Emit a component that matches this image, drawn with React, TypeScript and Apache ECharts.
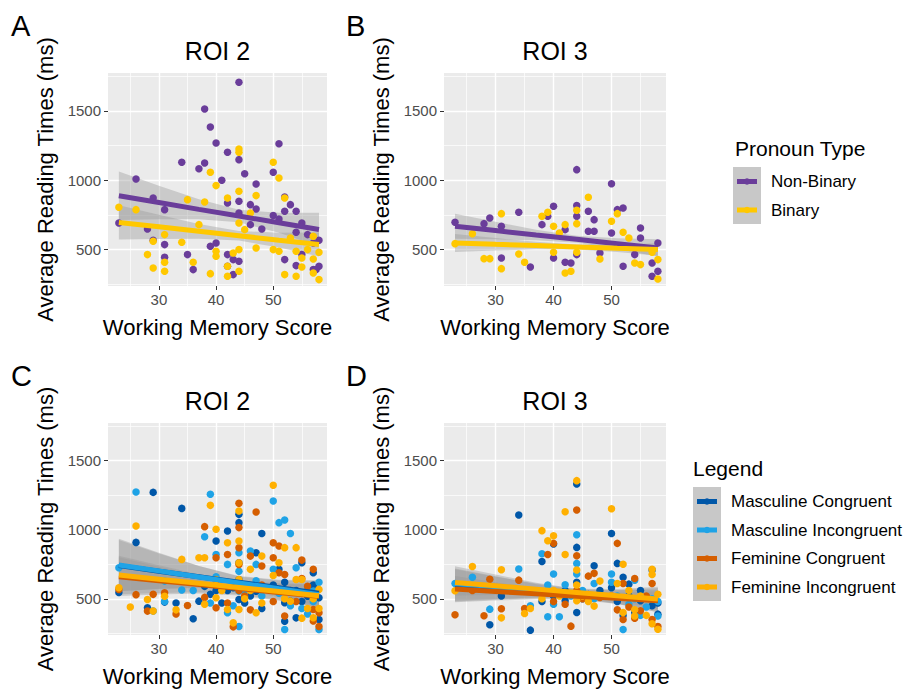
import React, { useEffect, useRef } from "react";
import * as echarts from "echarts";

const FONT = "'Liberation Sans', Arial, sans-serif";

// ---------- axes ----------
const X_MIN = 21.1;
const X_MAX = 59.4;
const Y_MIN = 238;
const Y_MAX = 1772;
const X_MAJOR = [30, 40, 50];
const X_MINOR = [25, 35, 45, 55];
const Y_MAJOR = [500, 1000, 1500];
const Y_MINOR = [250, 750, 1250, 1750];

const PANEL_TITLES = ["ROI 2", "ROI 3", "ROI 2", "ROI 3"];
const PANEL_LETTERS = ["A", "B", "C", "D"];
const X_TITLE = "Working Memory Score";
const Y_TITLE = "Average Reading Times (ms)";

const LEGEND1_TITLE = "Pronoun Type";
const LEGEND1_ITEMS = ["Non-Binary", "Binary"];
const LEGEND2_TITLE = "Legend";
const LEGEND2_ITEMS = ["Masculine Congruent", "Masculine Incongruent", "Feminine Congruent", "Feminine Incongruent"];

const C_NB = "#6A3D9A";
const C_B = "#FFC800";
const C_MC = "#0057A8";
const C_MI = "#1FA3E6";
const C_FC = "#D55E00";
const C_FI = "#FFB000";

// ---------- points: [working memory score, reading time] ----------
const aNonBinary = [[23,692],[26,1009],[28,649],[29,872],[29,567],[31,788],[31,536],[31,445],[34,1129],[35,464],[36,356],[37,1083],[38,1124],[38,1513],[39,1383],[39,524],[40,1268],[40,548],[41,999],[42,1201],[42,836],[42,464],[42,380],[43,428],[44,1705],[44,1148],[44,848],[44,764],[44,416],[43,320],[45,1047],[46,824],[46,680],[47,973],[47,793],[48,649],[50,1057],[50,745],[51,1263],[51,721],[52,879],[52,776],[52,428],[53,824],[54,776],[54,625],[54,385],[55,692],[55,464],[56,608],[57,548],[57,356],[58,567],[58,380],[57.5,356]];
const aBinary = [[23,805],[26,788],[28,464],[29,368],[29,560],[31,608],[31,409],[31,344],[34,553],[35,860],[36,409],[37,680],[38,843],[39,1057],[39,327],[40,961],[40,488],[40,452],[42,872],[42,380],[42,308],[43,476],[44,1225],[44,1201],[44,920],[44,692],[44,500],[44,344],[45,644],[46,764],[47,889],[47,512],[50,1129],[50,500],[51,1016],[51,488],[52,872],[52,320],[53,584],[54,488],[54,308],[55,440],[55,375],[56,500],[57,596],[57,433],[57,332],[58,284],[58,481]];

const bNonBinary = [[23,697],[28,687],[29,728],[31,668],[31,440],[34,769],[36,375],[38,680],[39,740],[40,812],[40,440],[42,644],[42,409],[43,404],[44,1076],[44,817],[44,740],[44,464],[46,776],[46,632],[47,716],[47,632],[48,476],[50,975],[50,620],[51,788],[52,800],[52,380],[54,464],[55,656],[55,584],[57,404],[58,548],[58,344],[57,308]];
const bBinary = [[23,543],[26,615],[28,435],[29,435],[31,759],[31,363],[34,469],[35,409],[38,740],[39,769],[40,481],[40,668],[41,620],[42,680],[42,332],[43,344],[44,783],[44,687],[44,481],[46,877],[48,433],[50,704],[51,759],[52,625],[53,584],[54,404],[55,392],[57,481],[58,428],[58,289]];

const cMascCong = [[29,1270],[26,908],[23,546],[28,435],[31,476],[34,1154],[36,355],[37,483],[39,532],[40,918],[42,990],[44,1111],[44,1051],[44,495],[47,833],[48,973],[47,555],[51,713],[52,471],[53,483],[55,761],[57,689],[58,507],[56,519],[43,580],[52,338],[54,362],[40,560],[41,470],[42,560],[44,640],[45,470],[46,520],[48,430],[50,600],[52,620],[54,560],[55,480],[57,600],[58,350],[33,470],[38,590],[44,760]];
const cMascIncong = [[26,1273],[23,725],[29,411],[31,628],[34,563],[39,1256],[38,949],[40,821],[42,749],[44,833],[44,556],[46,845],[47,749],[50,1208],[51,1051],[52,1070],[53,973],[54,725],[56,568],[57,556],[58,278],[50,713],[52,278],[42,399],[39,470],[40,660],[43,450],[44,700],[45,560],[47,630],[48,520],[51,540],[53,450],[55,430],[56,390],[57,480],[58,620],[31,480],[36,560],[44,300]];
const cFemCong = [[23,568],[28,411],[29,532],[31,544],[35,452],[38,1022],[40,797],[40,435],[42,821],[44,1191],[44,1015],[44,870],[44,749],[43,297],[46,809],[47,1128],[48,737],[50,906],[50,797],[51,882],[51,689],[52,676],[52,375],[55,780],[55,647],[57,713],[57,423],[58,399],[38,510],[40,600],[42,470],[44,560],[45,520],[46,420],[48,600],[50,480],[53,560],[54,480],[56,590],[57,340],[58,300],[26,530],[33,390]];
const cFemIncong = [[23,580],[26,1027],[28,495],[29,411],[31,519],[34,785],[37,797],[38,797],[39,1176],[40,1003],[40,507],[42,906],[42,423],[44,1135],[44,918],[44,423],[43,326],[45,500],[46,713],[47,399],[48,809],[50,1321],[50,669],[51,761],[52,870],[53,483],[54,870],[55,640],[57,363],[58,568],[38,460],[40,640],[41,560],[44,760],[44,640],[46,560],[48,470],[50,560],[52,500],[54,640],[55,360],[56,430],[57,500],[58,430],[25,440],[33,420]];

const dMascCong = [[34,1106],[50,973],[44,1331],[44,872],[47,739],[51,756],[42,486],[44,401],[36,273],[29,312],[57,708],[53,606],[52,655],[40,896],[38,770],[55,486],[58,389],[40,520],[42,560],[44,620],[45,500],[46,530],[48,560],[50,580],[51,480],[52,380],[53,520],[54,400],[55,560],[57,450],[58,470],[31,520],[38,480]];
const dMascIncong = [[34,715],[44,964],[44,756],[38,826],[40,679],[42,601],[39,370],[50,679],[26,655],[23,611],[29,425],[47,611],[54,635],[58,375],[52,278],[41,370],[39,600],[40,460],[43,520],[44,680],[45,560],[47,500],[50,620],[51,520],[53,460],[54,500],[55,380],[56,440],[57,500],[58,480],[31,580],[36,450]];
const dFemCong = [[23,384],[28,377],[29,642],[31,428],[34,635],[39,821],[40,901],[44,1142],[44,812],[47,684],[46,664],[51,901],[52,611],[54,647],[57,611],[43,302],[52,350],[55,413],[38,540],[40,480],[42,460],[44,560],[45,500],[48,510],[50,520],[51,420],[53,440],[54,360],[56,520],[57,350],[58,300],[26,560],[35,430]];
const dFemIncong = [[23,558],[26,734],[31,710],[38,993],[39,920],[40,956],[42,1130],[42,821],[44,1355],[44,708],[44,486],[50,1152],[52,750],[51,611],[48,628],[57,713],[57,676],[54,375],[58,532],[35,394],[47,447],[31,362],[38,500],[40,560],[41,520],[44,600],[45,520],[46,480],[50,520],[52,400],[53,560],[54,420],[55,520],[56,380],[57,320],[58,280],[36,430]];

// ---------- fitted lines and 95% bands ----------
const FIT_X = [23, 30, 37, 44, 51, 58];

const aNBFit = [888, 839, 790, 742, 693, 645];
const aNBUp = [1063, 960, 862, 787, 765, 765];
const aNBLow = [713, 718, 718, 697, 621, 525];
const aBFit = [696, 664, 632, 600, 568, 537];
const aBUp = [820, 751, 685, 635, 621, 623];
const aBLow = [572, 577, 579, 565, 515, 451];

const bNBFit = [668, 637, 605, 574, 543, 512];
const bNBUp = [758, 700, 643, 599, 581, 574];
const bNBLow = [578, 574, 567, 549, 505, 450];
const bBFit = [548, 538, 529, 519, 509, 500];
const bBUp = [613, 583, 557, 537, 537, 545];
const bBLow = [483, 493, 502, 501, 482, 455];

const cMCFit = [740, 700, 660, 620, 580, 540];
const cMCUp = [925, 828, 738, 665, 638, 635];
const cMCLow = [555, 572, 582, 575, 522, 445];
const cMIFit = [745, 702, 658, 615, 572, 530];
const cMIUp = [935, 834, 738, 661, 632, 628];
const cMILow = [555, 570, 578, 569, 512, 432];
const cFCFit = [660, 631, 603, 574, 546, 518];
const cFCUp = [800, 731, 668, 624, 606, 603];
const cFCLow = [520, 531, 538, 524, 486, 433];
const cFIFit = [672, 642, 612, 582, 552, 522];
const cFIUp = [812, 742, 677, 632, 612, 607];
const cFILow = [532, 542, 547, 532, 492, 437];

const dMCFit = [600, 578, 556, 534, 512, 490];
const dMCUp = [720, 663, 606, 564, 562, 578];
const dMCLow = [480, 493, 506, 504, 462, 402];
const dMIFit = [610, 587, 564, 541, 518, 495];
const dMIUp = [735, 675, 616, 573, 570, 587];
const dMILow = [485, 499, 512, 509, 466, 403];
const dFCFit = [570, 553, 536, 519, 503, 486];
const dFCUp = [665, 619, 576, 544, 543, 554];
const dFCLow = [475, 487, 496, 494, 463, 418];
const dFIFit = [618, 594, 570, 546, 522, 498];
const dFIUp = [713, 660, 610, 571, 562, 566];
const dFILow = [523, 528, 530, 521, 482, 430];

// ---------- layout ----------
const GRIDS = [
  { left: 108, top: 73, width: 219, height: 213 },
  { left: 444, top: 73, width: 222, height: 213 },
  { left: 108, top: 423, width: 219, height: 212 },
  { left: 444, top: 423, width: 222, height: 212 },
];

function buildOption() {
  const grid = GRIDS.map((g) => ({ ...g, show: true, backgroundColor: "#EBEBEB", borderWidth: 0, containLabel: false }));
  const xAxis: any[] = [];
  const yAxis: any[] = [];
  const plain = (v: number) => String(v);
  GRIDS.forEach((_, gi) => {
    xAxis.push({
      gridIndex: gi, type: "value", min: X_MIN, max: X_MAX,
      axisLine: { show: false },
      axisTick: { show: true, customValues: X_MAJOR, length: 4, lineStyle: { color: "#333333", width: 1 } },
      axisLabel: { show: true, customValues: X_MAJOR, formatter: plain, color: "#4D4D4D", fontSize: 15, margin: 6, fontFamily: FONT },
      splitLine: { show: true, lineStyle: { color: "#FFFFFF", width: 1.4 } },
    });
    xAxis.push({
      gridIndex: gi, type: "value", min: X_MIN, max: X_MAX, position: "bottom",
      axisLine: { show: false },
      axisTick: { show: false, customValues: X_MINOR },
      axisLabel: { show: false, customValues: X_MINOR },
      splitLine: { show: true, lineStyle: { color: "#FFFFFF", width: 0.7 } },
    });
    yAxis.push({
      gridIndex: gi, type: "value", min: Y_MIN, max: Y_MAX,
      axisLine: { show: false },
      axisTick: { show: true, customValues: Y_MAJOR, length: 4, lineStyle: { color: "#333333", width: 1 } },
      axisLabel: { show: true, customValues: Y_MAJOR, formatter: plain, color: "#4D4D4D", fontSize: 15, margin: 7, fontFamily: FONT },
      splitLine: { show: true, lineStyle: { color: "#FFFFFF", width: 1.4 } },
    });
    yAxis.push({
      gridIndex: gi, type: "value", min: Y_MIN, max: Y_MAX, position: "left",
      axisLine: { show: false },
      axisTick: { show: false, customValues: Y_MINOR },
      axisLabel: { show: false, customValues: Y_MINOR },
      splitLine: { show: true, lineStyle: { color: "#FFFFFF", width: 0.7 } },
    });
  });

  const series: any[] = [];
  const scatter = (gi: number, data: number[][], color: string) =>
    series.push({
      type: "scatter", xAxisIndex: gi * 2, yAxisIndex: gi * 2, data, symbolSize: 7.5,
      itemStyle: { color, opacity: 1 }, silent: true,
    });
  const smooth = (gi: number, fit: number[], low: number[], up: number[], color: string) => {
    series.push({
      type: "custom", xAxisIndex: gi * 2, yAxisIndex: gi * 2, silent: true,
      data: FIT_X.map((x, i) => [x, low[i], up[i]]),
      encode: { x: 0, y: [1, 2] },
      renderItem: (params: any, api: any) => {
        if (params.dataIndex !== 0) return null;
        const top = FIT_X.map((x, i) => api.coord([x, up[i]]));
        const bot = FIT_X.map((x, i) => api.coord([x, low[i]])).reverse();
        return { type: "polygon", shape: { points: [...top, ...bot] }, style: { fill: "rgba(153,153,153,0.4)" } };
      },
    });
    series.push({
      type: "line", xAxisIndex: gi * 2, yAxisIndex: gi * 2, silent: true,
      data: FIT_X.map((x, i) => [x, fit[i]]), showSymbol: false, symbol: "none",
      lineStyle: { color, width: 5 },
    });
  };

  scatter(0, aNonBinary, C_NB);
  scatter(0, aBinary, C_B);
  smooth(0, aNBFit, aNBLow, aNBUp, C_NB);
  smooth(0, aBFit, aBLow, aBUp, C_B);

  scatter(1, bNonBinary, C_NB);
  scatter(1, bBinary, C_B);
  smooth(1, bNBFit, bNBLow, bNBUp, C_NB);
  smooth(1, bBFit, bBLow, bBUp, C_B);

  scatter(2, cMascCong, C_MC);
  scatter(2, cMascIncong, C_MI);
  scatter(2, cFemCong, C_FC);
  scatter(2, cFemIncong, C_FI);
  smooth(2, cMCFit, cMCLow, cMCUp, C_MC);
  smooth(2, cMIFit, cMILow, cMIUp, C_MI);
  smooth(2, cFCFit, cFCLow, cFCUp, C_FC);
  smooth(2, cFIFit, cFILow, cFIUp, C_FI);

  scatter(3, dMascCong, C_MC);
  scatter(3, dMascIncong, C_MI);
  scatter(3, dFemCong, C_FC);
  scatter(3, dFemIncong, C_FI);
  smooth(3, dMCFit, dMCLow, dMCUp, C_MC);
  smooth(3, dMIFit, dMILow, dMIUp, C_MI);
  smooth(3, dFCFit, dFCLow, dFCUp, C_FC);
  smooth(3, dFIFit, dFILow, dFIUp, C_FI);

  // ---------- texts & legends ----------
  const graphic: any[] = [];
  const txt = (text: string, x: number, y: number, fontSize: number, align = "center", rotation = 0, color = "#000000") =>
    graphic.push({
      type: "text", x, y, rotation, silent: true,
      style: { text, fontSize, fontFamily: FONT, fill: color, align, verticalAlign: "middle" },
    });

  const letterPos = [[11, 26], [346, 26], [11, 376], [346, 376]];
  GRIDS.forEach((g, gi) => {
    const cx = g.left + g.width / 2;
    const cy = g.top + g.height / 2;
    txt(PANEL_LETTERS[gi], letterPos[gi][0], letterPos[gi][1], 29, "left");
    txt(PANEL_TITLES[gi], cx, g.top - 22, 25, "center");
    txt(X_TITLE, cx, g.top + g.height + 41, 22, "center");
    txt(Y_TITLE, g.left - 63, cy, 22, "center", Math.PI / 2);
  });

  // legend 1
  txt(LEGEND1_TITLE, 735, 148, 21, "left");
  graphic.push({ type: "rect", silent: true, shape: { x: 733, y: 167, width: 28, height: 57 }, style: { fill: "#C8C8C8" } });
  [C_NB, C_B].forEach((c, i) => {
    const y = 181.5 + i * 28.5;
    graphic.push({ type: "line", silent: true, shape: { x1: 737, y1: y, x2: 757, y2: y }, style: { stroke: c, lineWidth: 5 } });
    graphic.push({ type: "circle", silent: true, shape: { cx: 747, cy: y, r: 3.3 }, style: { fill: c } });
    txt(LEGEND1_ITEMS[i], 771, y, 17, "left");
  });

  // legend 2
  txt(LEGEND2_TITLE, 693, 468, 21, "left");
  graphic.push({ type: "rect", silent: true, shape: { x: 693, y: 487, width: 28, height: 114 }, style: { fill: "#C8C8C8" } });
  [C_MC, C_MI, C_FC, C_FI].forEach((c, i) => {
    const y = 501.5 + i * 28.5;
    graphic.push({ type: "line", silent: true, shape: { x1: 697, y1: y, x2: 717, y2: y }, style: { stroke: c, lineWidth: 5 } });
    graphic.push({ type: "circle", silent: true, shape: { cx: 707, cy: y, r: 3.3 }, style: { fill: c } });
    txt(LEGEND2_ITEMS[i], 731, y, 17, "left");
  });

  return {
    animation: false,
    backgroundColor: "#FFFFFF",
    textStyle: { fontFamily: FONT },
    grid, xAxis, yAxis, series, graphic,
  };
}

export default function App() {
  const ref = useRef<HTMLDivElement>(null);
  useEffect(() => {
    if (!ref.current) return;
    const chart = echarts.init(ref.current, undefined, { renderer: "svg" });
    chart.setOption(buildOption() as any);
    return () => chart.dispose();
  }, []);
  return <div ref={ref} style={{ position: "fixed", left: 0, top: 0, width: 921, height: 689 }} />;
}
